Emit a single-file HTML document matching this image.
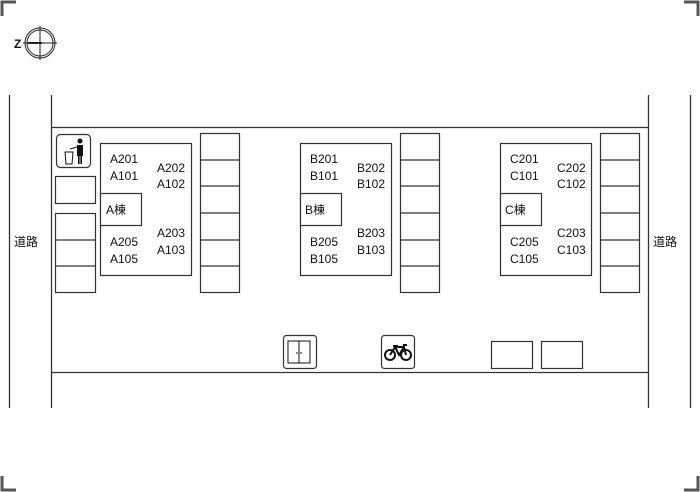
<!DOCTYPE html><html><head><style>body{margin:0;background:#fff}svg{display:block}text{font-family:"Liberation Sans","Noto Sans CJK JP",sans-serif;font-size:12px;fill:#111}</style></head><body>
<svg width="700" height="492" viewBox="0 0 700 492" xmlns="http://www.w3.org/2000/svg">
<g stroke="#555" stroke-width="3" fill="none">
<path d="M2 16V2H16"/><path d="M684 2H698V16"/><path d="M2 476V490H16"/><path d="M684 490H698V476"/></g>
<g stroke="#222" fill="none" stroke-width="1">
<circle cx="40" cy="43" r="15"/><circle cx="40" cy="43" r="13"/><path d="M40 26V60M23 43H57"/>
<path d="M28 43H42" stroke-width="2"/></g>
<text x="14" y="48" font-weight="bold" font-size="11">Z</text>
<g stroke="#333" stroke-width="1.3" fill="none">
<path d="M9.5 95V408M51.5 95V408M648.5 95V408M690.5 95V408M51 127.5H648M51 372.5H648"/>
</g>
<text x="14" y="246">道路</text><text x="653" y="246">道路</text>
<g stroke="#333" stroke-width="1.2" fill="#fff">
<rect x="56.5" y="134.5" width="34" height="33" rx="4"/>
<rect x="55.5" y="176.5" width="40" height="27"/>
<rect x="55.5" y="213.5" width="40" height="79"/><path d="M55 240H95M55 266H95"/>
<rect x="283.5" y="335.5" width="33" height="33" rx="3"/>
<rect x="381.5" y="335.5" width="33" height="33" rx="3"/>
<rect x="491.5" y="341.5" width="41" height="27"/>
<rect x="541.5" y="341.5" width="41" height="27"/>
</g>
<g fill="#111"><circle cx="80" cy="141" r="2.5"/><rect x="77" y="145" width="6" height="11"/><rect x="78" y="156" width="1.6" height="8"/><rect x="80.4" y="156" width="1.6" height="8"/></g>
<g stroke="#111" fill="none" stroke-width="1"><path d="M65 152H73L72 164H66Z"/><path d="M70 149L77 147"/>
<rect x="288" y="341" width="22" height="22"/><path d="M299 341V363M297 352V354M301 352V354"/>
<circle cx="390" cy="355" r="5" stroke-width="2"/><circle cx="406" cy="355" r="5" stroke-width="2"/><path d="M390 355L395 347H404L406 355M395 347L399 355L404 347M393 346H398M403 345H407" stroke-width="2"/></g>
<g id="b" stroke="#333" stroke-width="1.2" fill="#fff">
<rect x="100.5" y="143.5" width="91" height="132"/>
<rect x="100.5" y="193.5" width="41" height="32"/>
<rect x="200.5" y="133.5" width="39" height="159"/>
<path d="M200 160H239M200 186H239M200 213H239M200 240H239M200 266H239"/>
</g>
<use href="#b" x="200"/><use href="#b" x="400"/>
<g>
<text x="110" y="163">A201</text><text x="110" y="180">A101</text><text x="157" y="172">A202</text><text x="157" y="188">A102</text><text x="106" y="214">A棟</text><text x="110" y="246">A205</text><text x="110" y="263">A105</text><text x="157" y="237">A203</text><text x="157" y="254">A103</text>
<text x="310" y="163">B201</text><text x="310" y="180">B101</text><text x="357" y="172">B202</text><text x="357" y="188">B102</text><text x="305" y="214">B棟</text><text x="310" y="246">B205</text><text x="310" y="263">B105</text><text x="357" y="237">B203</text><text x="357" y="254">B103</text>
<text x="510" y="163">C201</text><text x="510" y="180">C101</text><text x="557" y="172">C202</text><text x="557" y="188">C102</text><text x="505" y="214">C棟</text><text x="510" y="246">C205</text><text x="510" y="263">C105</text><text x="557" y="237">C203</text><text x="557" y="254">C103</text>
</g>
</svg></body></html>
